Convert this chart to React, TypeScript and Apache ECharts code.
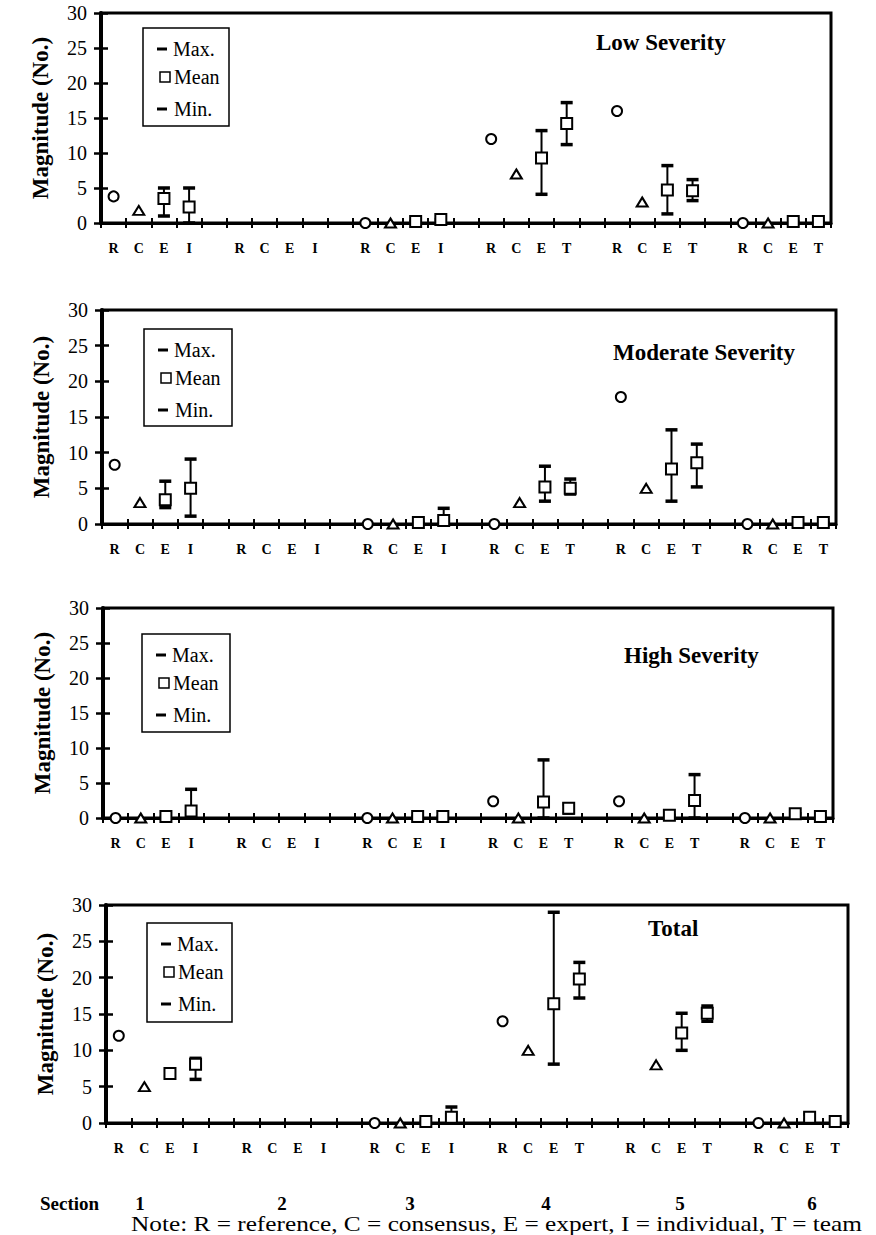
import React, { useEffect, useRef } from 'react';
import * as echarts from 'echarts';

// ---------- data ----------
const categories = [
  'R', 'C', 'E', 'I', '',
  'R', 'C', 'E', 'I', '',
  'R', 'C', 'E', 'I', '',
  'R', 'C', 'E', 'T', '',
  'R', 'C', 'E', 'T', '',
  'R', 'C', 'E', 'T',
];
const sectionLabels = ['1', '2', '3', '4', '5', '6'];
const yTicks = [0, 5, 10, 15, 20, 25, 30];
const panelTitles = ['Low Severity', 'Moderate Severity', 'High Severity', 'Total'];
const legendLabels = ['Max.', 'Mean', 'Min.'];
const noteText = 'Note: R = reference, C = consensus, E = expert, I = individual, T = team';

// Low severity (per section 1..6; section 2 has no data)
const lowRef = [3.8, null, 0, 12, 16, 0];
const lowCons = [1.8, null, 0, 7, 3, 0];
const lowExpMean = [3.5, null, 0.2, 9.3, 4.7, 0.2];
const lowExpMax = [5, null, 0.2, 13.2, 8.2, 0.2];
const lowExpMin = [1, null, 0.2, 4.1, 1.3, 0.2];
const lowLastMean = [2.3, null, 0.5, 14.2, 4.6, 0.2];
const lowLastMax = [5, null, 0.5, 17.2, 6.2, 0.2];
const lowLastMin = [0, null, 0.5, 11.2, 3.2, 0.2];

// Moderate severity
const modRef = [8.3, null, 0, 0, 17.8, 0];
const modCons = [3, null, 0, 3, 5, 0];
const modExpMean = [3.4, null, 0.2, 5.2, 7.7, 0.2];
const modExpMax = [6, null, 0.2, 8.1, 13.2, 0.2];
const modExpMin = [2.3, null, 0.2, 3.2, 3.2, 0.2];
const modLastMean = [5, null, 0.5, 5, 8.6, 0.2];
const modLastMax = [9.1, null, 2.2, 6.3, 11.2, 0.2];
const modLastMin = [1.1, null, 0, 4.2, 5.2, 0.2];

// High severity
const highRef = [0, null, 0, 2.4, 2.4, 0];
const highCons = [0, null, 0, 0, 0, 0];
const highExpMean = [0.2, null, 0.2, 2.3, 0.4, 0.6];
const highExpMax = [0.2, null, 0.2, 8.3, 0.4, 0.6];
const highExpMin = [0.2, null, 0.2, 0, 0.4, 0.6];
const highLastMean = [1, null, 0.2, 1.4, 2.5, 0.2];
const highLastMax = [4.1, null, 0.2, 2, 6.2, 0.2];
const highLastMin = [0, null, 0.2, 0.7, 0, 0.2];

// Total (section 5 reference lies above the axis range)
const totRef = [12, null, 0, 14, null, 0];
const totCons = [5, null, 0, 10, 8, 0];
const totExpMean = [6.8, null, 0.2, 16.4, 12.4, 0.8];
const totExpMax = [7.2, null, 0.2, 29, 15.1, 1.2];
const totExpMin = [6.4, null, 0.2, 8.1, 10, 0.4];
const totLastMean = [8.1, null, 0.8, 19.8, 15.1, 0.2];
const totLastMax = [8.9, null, 2.2, 22.1, 16.1, 0.2];
const totLastMin = [6, null, 0, 17.2, 14, 0.2];

const panels = [
  { ref: lowRef, cons: lowCons, eMean: lowExpMean, eMax: lowExpMax, eMin: lowExpMin, lMean: lowLastMean, lMax: lowLastMax, lMin: lowLastMin },
  { ref: modRef, cons: modCons, eMean: modExpMean, eMax: modExpMax, eMin: modExpMin, lMean: modLastMean, lMax: modLastMax, lMin: modLastMin },
  { ref: highRef, cons: highCons, eMean: highExpMean, eMax: highExpMax, eMin: highExpMin, lMean: highLastMean, lMax: highLastMax, lMin: highLastMin },
  { ref: totRef, cons: totCons, eMean: totExpMean, eMax: totExpMax, eMin: totExpMin, lMean: totLastMean, lMax: totLastMax, lMin: totLastMin },
];

// ---------- layout ----------
const FONT = "'Liberation Serif', 'Times New Roman', serif";
const grids = [
  { left: 101, top: 13, width: 730, height: 210 },
  { left: 102, top: 310, width: 734, height: 214 },
  { left: 103, top: 608, width: 730, height: 210 },
  { left: 106, top: 905, width: 742, height: 218 },
];
const legendBoxes = [
  { x: 143, y: 28, w: 86, h: 98 },
  { x: 144, y: 329, w: 88, h: 97 },
  { x: 142, y: 634, w: 88, h: 98 },
  { x: 147, y: 923, w: 85, h: 99 },
];
const titlePos = [
  { left: 596, top: 31 },
  { left: 613, top: 341 },
  { left: 624, top: 644 },
  { left: 648, top: 917 },
];
const sectionX = [140, 282, 410, 546, 680, 812];

function slot(section: number, k: number) {
  return section * 5 + k;
}

function pts(arr: (number | null)[], k: number) {
  const out: number[][] = [];
  arr.forEach((v, s) => {
    if (v !== null) out.push([slot(s, k), v]);
  });
  return out;
}

function bars(mins: (number | null)[], maxs: (number | null)[], k: number) {
  const out: number[][] = [];
  mins.forEach((v, s) => {
    const m = maxs[s];
    if (v !== null && m !== null) out.push([slot(s, k), v, m]);
  });
  return out;
}

function errorBarRender(params: any, api: any) {
  const x = api.value(0);
  const lo = api.coord([x, api.value(1)]);
  const hi = api.coord([x, api.value(2)]);
  const half = 6;
  return {
    type: 'group',
    children: [
      { type: 'line', shape: { x1: lo[0], y1: lo[1], x2: hi[0], y2: hi[1] }, style: { stroke: '#000', lineWidth: 2 } },
      { type: 'line', shape: { x1: hi[0] - half, y1: hi[1], x2: hi[0] + half, y2: hi[1] }, style: { stroke: '#000', lineWidth: 3.5 } },
      { type: 'line', shape: { x1: lo[0] - half, y1: lo[1], x2: lo[0] + half, y2: lo[1] }, style: { stroke: '#000', lineWidth: 3.5 } },
    ],
  };
}

function buildOption() {
  const grid: any[] = [];
  const xAxis: any[] = [];
  const yAxis: any[] = [];
  const series: any[] = [];
  const title: any[] = [];
  const graphic: any[] = [];

  grids.forEach((g, p) => {
    grid.push({
      left: g.left, top: g.top, width: g.width, height: g.height,
      show: true, borderColor: '#000', borderWidth: 3, backgroundColor: 'transparent',
    });
    xAxis.push({
      gridIndex: p, type: 'category', data: categories, position: 'bottom', boundaryGap: true,
      axisLine: { show: true, lineStyle: { color: '#000', width: 3 } },
      axisTick: { show: true, inside: false, length: 5, lineStyle: { color: '#000', width: 2 } },
      axisLabel: { interval: 0, margin: 18, color: '#000', fontSize: 14, fontWeight: 'bold', fontFamily: FONT },
      splitLine: { show: false },
    });
    xAxis.push({
      gridIndex: p, type: 'category', data: categories, position: 'bottom', boundaryGap: true,
      axisLine: { show: false },
      axisTick: { show: true, inside: true, length: 5, lineStyle: { color: '#000', width: 2 } },
      axisLabel: { show: false },
      splitLine: { show: false },
    });
    yAxis.push({
      gridIndex: p, type: 'value', min: yTicks[0], max: yTicks[yTicks.length - 1], interval: 5, position: 'left',
      axisLine: { show: true, lineStyle: { color: '#000', width: 4 } },
      axisTick: { show: true, inside: false, length: 7, lineStyle: { color: '#000', width: 2.5 } },
      axisLabel: { margin: 14, color: '#000', fontSize: 20, fontFamily: FONT },
      splitLine: { show: false },
      name: 'Magnitude (No.)', nameLocation: 'middle', nameGap: 49, nameRotate: 90,
      nameTextStyle: { color: '#000', fontSize: 23, fontWeight: 'bold', fontFamily: FONT },
    });
    yAxis.push({
      gridIndex: p, type: 'value', min: yTicks[0], max: yTicks[yTicks.length - 1], interval: 5, position: 'left',
      axisLine: { show: false },
      axisTick: { show: true, inside: true, length: 7, lineStyle: { color: '#000', width: 2.5 } },
      axisLabel: { show: false },
      splitLine: { show: false },
    });

    const d = panels[p];
    const xi = p * 2;
    const yi = p * 2;
    const markerStyle = { color: '#fff', borderColor: '#000', borderWidth: 2, opacity: 1 };
    series.push({
      type: 'scatter', name: 'Reference', xAxisIndex: xi, yAxisIndex: yi, clip: true,
      symbol: 'circle', symbolSize: 10, itemStyle: markerStyle, z: 5,
      data: pts(d.ref, 0),
    });
    series.push({
      type: 'scatter', name: 'Consensus', xAxisIndex: xi, yAxisIndex: yi, clip: true,
      symbol: 'triangle', symbolSize: [11, 9], itemStyle: markerStyle, z: 5,
      data: pts(d.cons, 1),
    });
    series.push({
      type: 'custom', name: 'Expert range', xAxisIndex: xi, yAxisIndex: yi, z: 3,
      renderItem: errorBarRender, encode: { x: 0, y: [1, 2] },
      data: bars(d.eMin, d.eMax, 2),
    });
    series.push({
      type: 'custom', name: 'Individual/Team range', xAxisIndex: xi, yAxisIndex: yi, z: 3,
      renderItem: errorBarRender, encode: { x: 0, y: [1, 2] },
      data: bars(d.lMin, d.lMax, 3),
    });
    series.push({
      type: 'scatter', name: 'Mean', xAxisIndex: xi, yAxisIndex: yi, clip: true,
      symbol: 'rect', symbolSize: 11, itemStyle: markerStyle, z: 6,
      data: pts(d.eMean, 2).concat(pts(d.lMean, 3)),
    });

    title.push({
      text: panelTitles[p], left: titlePos[p].left, top: titlePos[p].top, padding: 0,
      textStyle: { color: '#000', fontSize: 23, fontWeight: 'bold', fontFamily: FONT },
    });

    const b = legendBoxes[p];
    graphic.push({
      type: 'group', x: b.x, y: b.y, z: 100,
      children: [
        { type: 'rect', shape: { x: 0, y: 0, width: b.w, height: b.h }, style: { fill: '#fff', stroke: '#000', lineWidth: 1.5 } },
        { type: 'rect', shape: { x: 14, y: 19.5, width: 10, height: 3 }, style: { fill: '#000' } },
        { type: 'rect', shape: { x: 17, y: 44, width: 10, height: 10 }, style: { fill: '#fff', stroke: '#000', lineWidth: 1.5 } },
        { type: 'rect', shape: { x: 14, y: 79.5, width: 10, height: 3 }, style: { fill: '#000' } },
        { type: 'text', x: 30, y: 21, style: { text: legendLabels[0], font: `20px ${FONT}`, fill: '#000', verticalAlign: 'middle' } },
        { type: 'text', x: 31, y: 49, style: { text: legendLabels[1], font: `20px ${FONT}`, fill: '#000', verticalAlign: 'middle' } },
        { type: 'text', x: 31, y: 81, style: { text: legendLabels[2], font: `20px ${FONT}`, fill: '#000', verticalAlign: 'middle' } },
      ],
    });
  });

  graphic.push({
    type: 'text', x: 40, y: 1203,
    style: { text: 'Section', font: `bold 19px ${FONT}`, fill: '#000', verticalAlign: 'middle' },
  });
  sectionLabels.forEach((s, i) => {
    graphic.push({
      type: 'text', x: sectionX[i], y: 1203,
      style: { text: s, font: `bold 19px ${FONT}`, fill: '#000', align: 'center', verticalAlign: 'middle' },
    });
  });
  graphic.push({
    type: 'text', x: 131, y: 1224, scaleX: 1.15,
    style: { text: noteText, font: `22px ${FONT}`, fill: '#000', verticalAlign: 'middle' },
  });

  return {
    animation: false,
    backgroundColor: '#fff',
    grid, xAxis, yAxis, series, title, graphic,
  };
}

export default function App() {
  const ref = useRef<HTMLDivElement>(null);
  useEffect(() => {
    if (!ref.current) return;
    const chart = echarts.init(ref.current, null, { renderer: 'svg' });
    chart.setOption(buildOption() as any);
    return () => chart.dispose();
  }, []);
  return (
    <div
      ref={ref}
      style={{ position: 'absolute', left: 0, top: 0, width: 876, height: 1235 }}
    />
  );
}
